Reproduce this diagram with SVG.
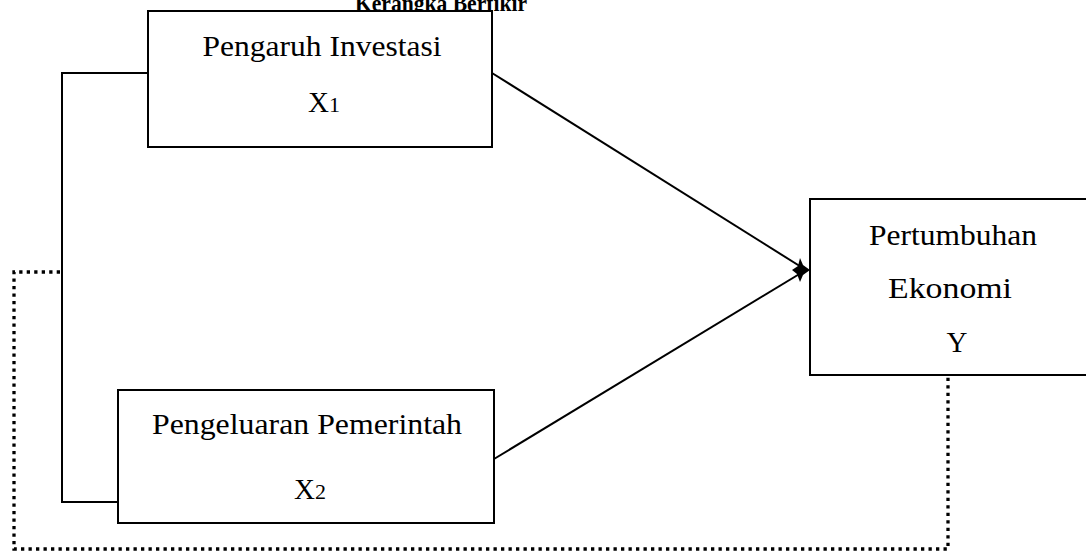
<svg xmlns="http://www.w3.org/2000/svg" width="1086" height="553" viewBox="0 0 1086 553">
<style>
.box{fill:#fff;stroke:#000;stroke-width:2}
.t{font-family:"Liberation Serif","Times New Roman",serif;font-size:29px;fill:#000}
.sub{font-size:22px}
.ln{stroke:#000;stroke-width:2;fill:none}
.dot{stroke:#000;stroke-width:3.3;fill:none;stroke-dasharray:3.3 4.2}
</style>
<rect width="1086" height="553" fill="#fff"/>
<text x="355" y="11" textLength="172" lengthAdjust="spacingAndGlyphs" style="font-family:'Liberation Serif',serif;font-weight:bold;font-size:24px">Kerangka Berfikir</text>
<g id="connectors">
<polyline class="ln" points="148,73 62,73 62,502 118,502"/>
<line class="ln" x1="492" y1="73" x2="806" y2="270"/>
<line class="ln" x1="494" y1="459" x2="806" y2="270"/>
<polygon points="792,270 798,266 800,258 803,265 810,270 803,275 800,282 797,274" fill="#000"/>
<polyline class="dot" points="60,272 14,272 14,549 948,549 948,375"/>
</g>
<g id="node-x1">
<rect class="box" x="148" y="11" width="344" height="136"/>
<text class="t" x="322" y="56" text-anchor="middle" textLength="239" lengthAdjust="spacingAndGlyphs">Pengaruh Investasi</text>
<text class="t" x="324" y="112" text-anchor="middle">X<tspan class="sub">1</tspan></text>
</g>
<g id="node-x2">
<rect class="box" x="118" y="390" width="376" height="133"/>
<text class="t" x="307" y="434" text-anchor="middle" textLength="310" lengthAdjust="spacingAndGlyphs">Pengeluaran Pemerintah</text>
<text class="t" x="310" y="499" text-anchor="middle">X<tspan class="sub">2</tspan></text>
</g>
<g id="node-y">
<rect class="box" x="810" y="199" width="290" height="176"/>
<text class="t" x="953" y="245" text-anchor="middle" textLength="168" lengthAdjust="spacingAndGlyphs">Pertumbuhan</text>
<text class="t" x="950" y="298" text-anchor="middle" textLength="124" lengthAdjust="spacingAndGlyphs">Ekonomi</text>
<text class="t" x="957" y="352" text-anchor="middle">Y</text>
</g>
</svg>
